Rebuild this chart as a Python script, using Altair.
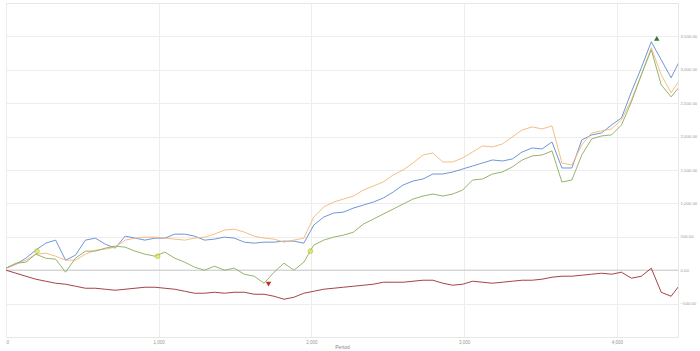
import altair as alt
import pandas as pd

step = 65
n = 69
periods = [i * step for i in range(n)]

blue = [30, 90, 180, 300, 405, 450, 150, 225, 450, 480, 390, 330, 510, 480, 450, 480, 480, 540, 540, 510,
        450, 465, 495, 480, 420, 405, 420, 420, 435, 435, 405, 675, 795, 855, 870, 930, 975, 1020, 1080, 1170,
        1275, 1335, 1365, 1440, 1440, 1470, 1515, 1560, 1605, 1650, 1635, 1665, 1770, 1830, 1815, 1920, 1530, 1530,
        1950, 2025, 2055, 2175, 2280, 2670, 3030, 3420, 3150, 2880, 3180]
orange = [30, 90, 150, 240, 255, 210, 150, 150, 240, 300, 315, 345, 450, 480, 495, 495, 480, 465, 450, 480,
          495, 540, 600, 615, 570, 510, 480, 465, 420, 450, 480, 795, 945, 1020, 1065, 1110, 1200, 1260, 1320, 1425,
          1500, 1605, 1725, 1755, 1620, 1620, 1680, 1770, 1860, 1845, 1890, 1995, 2100, 2145, 2115, 2160, 1605, 1575,
          1875, 2055, 2085, 2115, 2250, 2550, 2925, 3330, 2925, 2655, 2880]
green = [30, 105, 120, 240, 180, 165, -30, 180, 285, 285, 330, 360, 345, 285, 240, 210, 270, 180, 120, 45,
         0, 60, 0, 30, -60, -90, -195, -30, 105, 0, 120, 375, 450, 495, 525, 570, 690, 765, 840, 915,
         990, 1065, 1110, 1140, 1110, 1140, 1200, 1350, 1365, 1440, 1470, 1545, 1650, 1710, 1725, 1785, 1320, 1350,
         1725, 1965, 2010, 2025, 2175, 2520, 2925, 3300, 2775, 2595, 2775]
red = [0, -45, -90, -135, -165, -195, -210, -240, -270, -270, -285, -300, -285, -270, -255, -255, -270, -285, -315, -345,
       -345, -330, -345, -330, -330, -360, -360, -390, -435, -405, -345, -315, -285, -270, -255, -240, -225, -210, -180, -180,
       -180, -165, -150, -150, -195, -225, -210, -165, -180, -195, -180, -165, -150, -150, -135, -105, -90, -90,
       -75, -60, -45, -60, -30, -120, -90, 30, -330, -390, -195]

series_names = ["Blue", "Orange", "Green", "Red"]
series_colors = ["#5f8ad3", "#f4b678", "#8aab5c", "#9b2c30"]

rows = []
for name, vals in zip(series_names, [blue, orange, green, red]):
    for p, v in zip(periods, vals):
        rows.append({"period": p, "value": v, "series": name})
df = pd.DataFrame(rows)

# markers
buy_period = [203, 993, 1993]
buy_value = [285, 210, 285]
max_period = [4261]
max_value = [3470]
min_period = [1719]
min_value = [-210]

x_scale = alt.Scale(domain=[0, 4400], nice=False, zero=False)
y_scale = alt.Scale(domain=[-1000, 4000], nice=False, zero=False)

x_enc = alt.X("period:Q", scale=x_scale,
              axis=alt.Axis(values=[0, 1000, 2000, 3000, 4000], format=",d", title="Period",
                            labelFontSize=4.5, titleFontSize=5, titleFontWeight="normal",
                            labelColor="#999", titleColor="#888", ticks=False, domain=False,
                            labelPadding=2, titlePadding=1, gridColor="#ededed"))
y_enc = alt.Y("value:Q", scale=y_scale,
              axis=alt.Axis(orient="right", values=list(range(-500, 4000, 500)), format=",.2f", title=None,
                            labelFontSize=4.3, labelColor="#999", ticks=False, domain=False,
                            labelPadding=2, gridColor="#ededed"))

lines = alt.Chart(df).mark_line(strokeWidth=0.9, clip=True).encode(
    x=x_enc, y=y_enc,
    color=alt.Color("series:N", scale=alt.Scale(domain=series_names, range=series_colors), legend=None),
)

zero = alt.Chart(pd.DataFrame({"value": [0]})).mark_rule(color="#c8c8c8", strokeWidth=1).encode(
    y=alt.Y("value:Q", scale=y_scale)
)

buys = alt.Chart(pd.DataFrame({"period": buy_period, "value": buy_value})).mark_point(
    shape="circle", filled=True, size=22, color="#e2e832", stroke="#9fb52e", strokeWidth=0.8
).encode(x=alt.X("period:Q", scale=x_scale), y=alt.Y("value:Q", scale=y_scale))

maxm = alt.Chart(pd.DataFrame({"period": max_period, "value": max_value})).mark_point(
    shape="triangle-up", filled=True, size=30, color="#2f7d2a", opacity=1
).encode(x=alt.X("period:Q", scale=x_scale), y=alt.Y("value:Q", scale=y_scale))

minm = alt.Chart(pd.DataFrame({"period": min_period, "value": min_value})).mark_point(
    shape="triangle-down", filled=True, size=30, color="#c0302b", opacity=1
).encode(x=alt.X("period:Q", scale=x_scale), y=alt.Y("value:Q", scale=y_scale))

chart = alt.layer(zero, lines, buys, maxm, minm).properties(
    width=672, height=334,
    autosize=alt.AutoSizeParams(type="none"),
    padding={"left": 6, "top": 3, "right": 22, "bottom": 14},
    background="white",
).configure_view(stroke="#e6e6e6", strokeWidth=1)

chart.save("out.html", embed_options={"renderer": "svg", "actions": False})
